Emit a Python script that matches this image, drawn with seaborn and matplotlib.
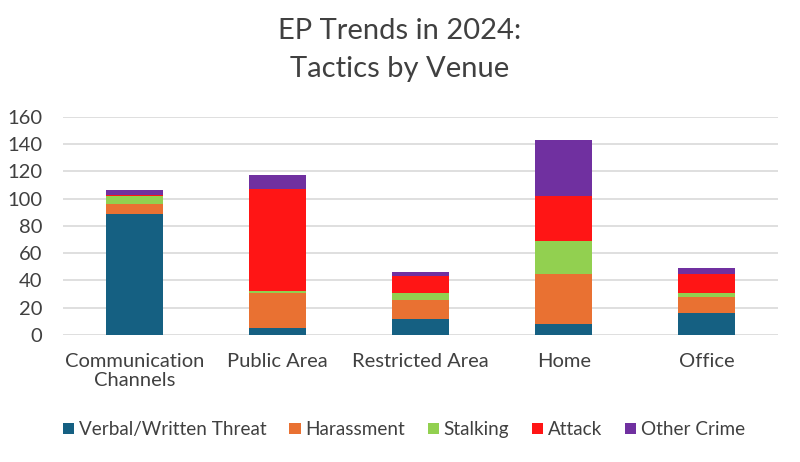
import pandas as pd
import numpy as np
import matplotlib
matplotlib.use('Agg')
import matplotlib.pyplot as plt
from matplotlib.patches import Patch
import seaborn as sns

# data
venues = ['Communication\nChannels', 'Public Area', 'Restricted Area', 'Home', 'Office']
tactics = ['Verbal/Written Threat', 'Harassment', 'Stalking', 'Attack', 'Other Crime']
verbal = [89, 5, 12, 8, 16]
harassment = [7, 26, 14, 37, 12]
stalking = [6, 1, 5, 24, 3]
attack = [1, 75, 12, 33, 14]
other = [3, 10, 3, 41, 4]
colors = ['#156082', '#E97132', '#92D050', '#FF1515', '#7030A0']

sns.set_theme(style='white')
plt.rcParams['font.family'] = ['Lato', 'DejaVu Sans']
text_col = '#404040'

layers = np.array([verbal, harassment, stalking, attack, other])
cum = layers.cumsum(axis=0)

fig = plt.figure(figsize=(8, 4.62), dpi=100)
ax = fig.add_axes([0.079, 0.275, 0.894, 0.472])

# stacked bars: draw cumulative totals from the top layer down
for i in range(len(tactics) - 1, -1, -1):
    df = pd.DataFrame({'venue': venues, 'value': cum[i]})
    sns.barplot(data=df, x='venue', y='value', color=colors[i], width=0.4,
                saturation=1, ax=ax, zorder=3, linewidth=0)

ax.set_ylim(0, 160)
ax.set_yticks(range(0, 161, 20))
ax.set_xlim(-0.5, 4.5)
ax.yaxis.grid(True, color='#d9d9d9', linewidth=1.2, zorder=0)
ax.set_axisbelow(True)
for s in ax.spines.values():
    s.set_visible(False)
ax.set_xlabel('')
ax.set_ylabel('')
ax.tick_params(axis='both', length=0, colors=text_col)
ax.tick_params(axis='x', pad=13, labelsize=14.5)
ax.tick_params(axis='y', pad=15, labelsize=14.5)
for lbl in ax.get_xticklabels():
    lbl.set_linespacing(1.15)

fig.suptitle('EP Trends in 2024:\nTactics by Venue', fontsize=21, color=text_col,
             y=0.96, linespacing=1.55)

handles = [Patch(facecolor=c, edgecolor='none') for c in colors]
fig.legend(handles, tactics, loc='center', bbox_to_anchor=(0.505, 0.07), ncol=5,
           frameon=False, fontsize=13.6, handlelength=0.6, handleheight=0.6,
           handletextpad=0.25, columnspacing=1.2, labelcolor=text_col)

fig.savefig('out.png', dpi=100)
